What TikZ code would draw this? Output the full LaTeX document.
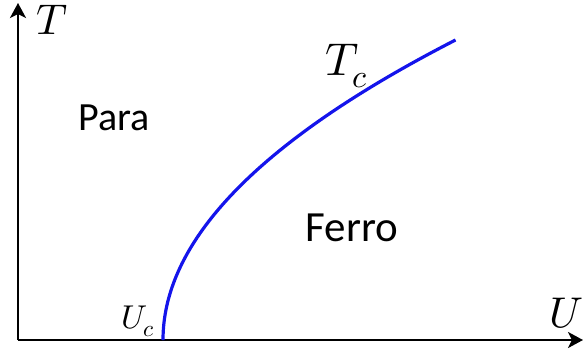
\documentclass[tikz,border=0pt]{standalone}
\usepackage{fontspec}
\usepackage{unicode-math}
\setmathfont{Latin Modern Math}
\setsansfont{Carlito}
\usetikzlibrary{arrows.meta}
\begin{document}
\begin{tikzpicture}[x=1pt,y=-1pt,
  axis/.style={line width=2.8pt,-{Stealth[length=15pt,width=16pt,inset=4pt]}},
  curve/.style={line width=3.2pt,draw={rgb,255:red,20;green,20;blue,235}},
  mathlbl/.style={inner sep=0pt,font=\fontsize{43}{48}\selectfont},
  smalllbl/.style={inner sep=0pt,font=\fontsize{33}{38}\selectfont},
  region/.style={inner sep=0pt,font=\sffamily\fontsize{40}{46}\selectfont}]
\useasboundingbox (0,0) rectangle (585,356);
\coordinate (O) at (18,340);
\coordinate (Ttop) at (18,3);
\coordinate (Uend) at (583,340);
\draw[axis] (O) -- (Ttop);
\draw[axis] (O) -- (Uend);
\draw[curve] plot[domain=0:300,samples=80,smooth] ({163+0.00325*\x*\x},{340-\x});
\node[mathlbl] (T) at (52,20) {$T$};
\node[mathlbl] (U) at (566,313) {$U$};
\node[smalllbl] (Uc) at (138,321) {$U_c$};
\node[mathlbl,font=\fontsize{46}{50}\selectfont] (Tc) at (347,66) {$T_c$};
\node[region] (para) at (114,118) {Para};
\node[region,font=\sffamily\fontsize{43}{48}\selectfont] (ferro) at (352,228) {Ferro};
\end{tikzpicture}
\end{document}
